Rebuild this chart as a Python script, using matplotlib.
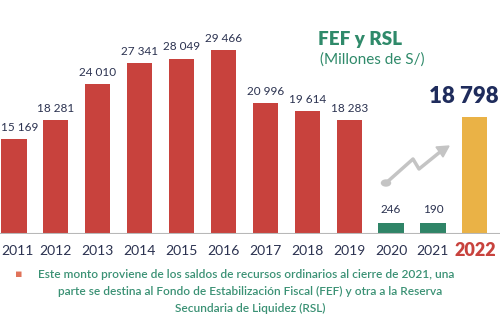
import matplotlib.pyplot as plt
import numpy as np

plt.rcParams['font.family'] = ['Lato', 'DejaVu Sans']

years = ["2011", "2012", "2013", "2014", "2015", "2016", "2017", "2018", "2019", "2020", "2021", "2022"]
values = [15169, 18281, 24010, 27341, 28049, 29466, 20996, 19614, 18283, 246, 190, 18798]
labels = ["15 169", "18 281", "24 010", "27 341", "28 049", "29 466", "20 996", "19 614", "18 283", "246", "190", "18 798"]
kinds = ["hist"] * 9 + ["low"] * 2 + ["new"]

colors = {"hist": "#c8423d", "low": "#2f8467", "new": "#eab246"}
navy = "#2b3250"
green_txt = "#3a9174"

fig = plt.figure(figsize=(5, 3.33), dpi=100)
fig.patch.set_facecolor("white")
ax = fig.add_axes([0, 0.297, 1, 0.703])
x = np.arange(len(years))
# tiny bars get a minimum visible height, like the original graphic
shown = np.maximum(values, 1800)
ax.bar(x, shown, width=0.6, color=[colors[k] for k in kinds], zorder=3)
ax.set_xlim(-0.334, 11.6)
ax.set_ylim(0, 37440)
ax.axis("off")
ax.axhline(0, color="#b8b8b8", lw=1.5, zorder=4)

for i, (v, s, k) in enumerate(zip(shown, labels, kinds)):
    if k == "new":
        ax.text(11.57, v + 1500, s, ha="right", va="bottom", fontsize=16,
                fontweight="heavy", color="#1f2c5c")
    elif k == "low":
        ax.text(i, v + 1300, s, ha="center", va="bottom", fontsize=8.5, color=navy)
    elif i == 0:
        ax.text(-0.31, v + 1000, s, ha="left", va="bottom", fontsize=8.5, color=navy)
    else:
        ax.text(i, v + 1000, s, ha="center", va="bottom", fontsize=8.5, color=navy)

for i, (yr, k) in enumerate(zip(years, kinds)):
    if k == "new":
        ax.text(i, -1200, yr, ha="center", va="top", fontsize=13,
                fontweight="heavy", color="#c8423d")
    elif i == 0:
        ax.text(-0.31, -1800, yr, ha="left", va="top", fontsize=10, color=navy)
    else:
        ax.text(i, -1800, yr, ha="center", va="top", fontsize=10, color=navy)

# decorative trend arrow
fig.lines.append(plt.Line2D([386 / 500, 413 / 500, 419 / 500, 440 / 500],
                            [1 - 183 / 333, 1 - 159 / 333, 1 - 169 / 333, 1 - 152 / 333],
                            transform=fig.transFigure, color="#c4c4c4", lw=2.5,
                            solid_capstyle="round", solid_joinstyle="round"))
fig.patches.append(plt.Circle((386 / 500, 1 - 183 / 333), 0.009, transform=fig.transFigure,
                              color="#c4c4c4"))
fig.patches.append(plt.Polygon([[449 / 500, 1 - 146 / 333], [436 / 500, 1 - 147 / 333],
                                [443 / 500, 1 - 157 / 333]], transform=fig.transFigure,
                               color="#c4c4c4"))

fig.text(360 / 500, 1 - 40 / 333, "FEF y RSL", ha="center", va="center",
         fontsize=13.5, fontweight="heavy", color="#2f8a6a")
fig.text(372 / 500, 1 - 60 / 333, "(Millones de S/)", ha="center", va="center",
         fontsize=11, color="#2f8a6a")

fig.text(19 / 500, 1 - 274 / 333, "▪", ha="center", va="center", fontsize=8,
         color="#e0735a", family="DejaVu Sans")
fig.text(246 / 500, 1 - 274 / 333,
         "Este monto proviene de los saldos de recursos ordinarios al cierre de 2021, una",
         ha="center", va="center", fontsize=8.6, fontweight="semibold", color=green_txt)
fig.text(250 / 500, 1 - 291 / 333,
         "parte se destina al Fondo de Estabilización Fiscal (FEF) y otra a la Reserva",
         ha="center", va="center", fontsize=8.6, fontweight="semibold", color=green_txt)
fig.text(250 / 500, 1 - 308 / 333, "Secundaria de Liquidez (RSL)",
         ha="center", va="center", fontsize=8.6, fontweight="semibold", color=green_txt)

fig.savefig("out.png", dpi=100, facecolor="white")
